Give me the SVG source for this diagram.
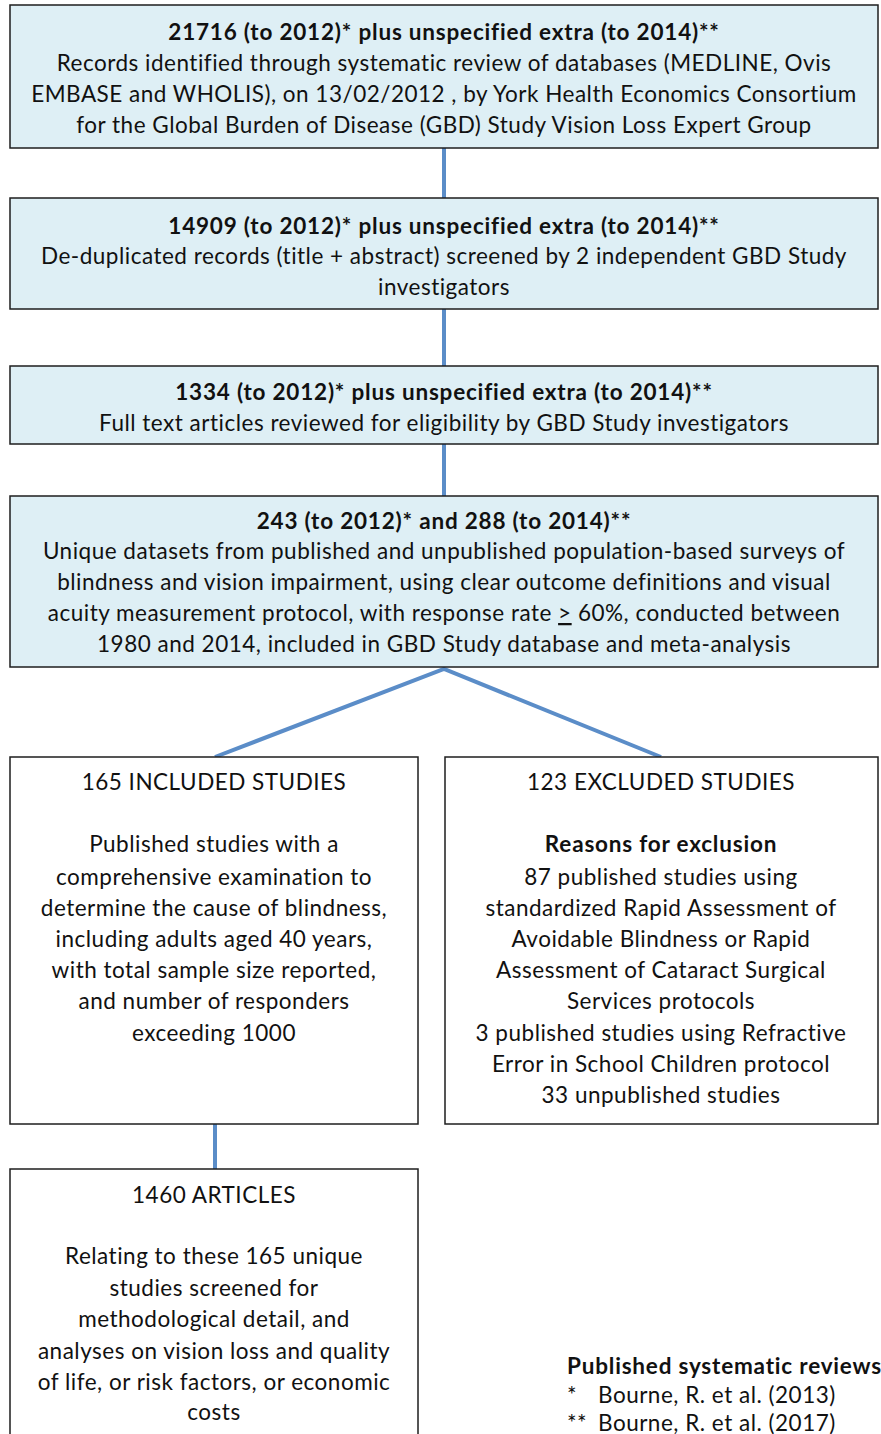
<svg xmlns="http://www.w3.org/2000/svg" width="881" height="1434" viewBox="0 0 881 1434">
<style>
.bb{fill:#deeff5;stroke:#1e1e1e;stroke-width:1.5}
.wb{fill:#ffffff;stroke:#1e1e1e;stroke-width:1.5}
text{font-family:Lato,"Liberation Sans",sans-serif;font-size:22.5px;letter-spacing:0.5px;fill:#111;text-anchor:middle}
.b{font-weight:bold;letter-spacing:0.8px}
.l{text-anchor:start}
.c{stroke:#5b8dc8;stroke-width:4;fill:none}
</style>
<rect width="881" height="1434" fill="#ffffff"/>
<g id="connectors">
<line class="c" x1="444" y1="148" x2="444" y2="198"/>
<line class="c" x1="444" y1="309" x2="444" y2="366"/>
<line class="c" x1="444" y1="444" x2="444" y2="496"/>
<polyline class="c" points="215,757 444,669 661,757"/>
<line class="c" x1="215" y1="1124" x2="215" y2="1169"/>
</g>
<g id="node1">
<rect class="bb" x="10" y="5" width="868" height="143"/>
<text class="b" x="444" y="40">21716 (to 2012)* plus unspecified extra (to 2014)**</text>
<text x="444" y="71">Records identified through systematic review of databases (MEDLINE, Ovis</text>
<text x="444" y="102">EMBASE and WHOLIS), on 13/02/2012 , by York Health Economics Consortium</text>
<text x="444" y="133">for the Global Burden of Disease (GBD) Study Vision Loss Expert Group</text>
</g>
<g id="node2">
<rect class="bb" x="10" y="198" width="868" height="111"/>
<text class="b" x="444" y="234">14909 (to 2012)* plus unspecified extra (to 2014)**</text>
<text x="444" y="264">De-duplicated records (title + abstract) screened by 2 independent GBD Study</text>
<text x="444" y="295">investigators</text>
</g>
<g id="node3">
<rect class="bb" x="10" y="366" width="868" height="78"/>
<text class="b" x="444" y="400">1334 (to 2012)* plus unspecified extra (to 2014)**</text>
<text x="444" y="431">Full text articles reviewed for eligibility by GBD Study investigators</text>
</g>
<g id="node4">
<rect class="bb" x="10" y="496" width="868" height="171"/>
<text class="b" x="444" y="529">243 (to 2012)* and 288 (to 2014)**</text>
<text x="444" y="559">Unique datasets from published and unpublished population-based surveys of</text>
<text x="444" y="590">blindness and vision impairment, using clear outcome definitions and visual</text>
<text x="444" y="621">acuity measurement protocol, with response rate <tspan text-decoration="underline">&gt;</tspan> 60%, conducted between</text>
<text x="444" y="652">1980 and 2014, included in GBD Study database and meta-analysis</text>
</g>
<g id="node5">
<rect class="wb" x="10" y="757" width="408" height="367"/>
<text x="214" y="790">165 INCLUDED STUDIES</text>
<text x="214" y="852">Published studies with a</text>
<text x="214" y="885">comprehensive examination to</text>
<text x="214" y="916">determine the cause of blindness,</text>
<text x="214" y="947">including adults aged 40 years,</text>
<text x="214" y="978">with total sample size reported,</text>
<text x="214" y="1009">and number of responders</text>
<text x="214" y="1041">exceeding 1000</text>
</g>
<g id="node6">
<rect class="wb" x="445" y="757" width="433" height="367"/>
<text x="661" y="790">123 EXCLUDED STUDIES</text>
<text class="b" x="661" y="852">Reasons for exclusion</text>
<text x="661" y="885">87 published studies using</text>
<text x="661" y="916">standardized Rapid Assessment of</text>
<text x="661" y="947">Avoidable Blindness or Rapid</text>
<text x="661" y="978">Assessment of Cataract Surgical</text>
<text x="661" y="1009">Services protocols</text>
<text x="661" y="1041">3 published studies using Refractive</text>
<text x="661" y="1072">Error in School Children protocol</text>
<text x="661" y="1103">33 unpublished studies</text>
</g>
<g id="node7">
<rect class="wb" x="10" y="1169" width="408" height="280"/>
<text x="214" y="1203">1460 ARTICLES</text>
<text x="214" y="1264">Relating to these 165 unique</text>
<text x="214" y="1296">studies screened for</text>
<text x="214" y="1327">methodological detail, and</text>
<text x="214" y="1359">analyses on vision loss and quality</text>
<text x="214" y="1390">of life, or risk factors, or economic</text>
<text x="214" y="1420">costs</text>
</g>
<g id="legend">
<text class="b l" x="567" y="1374">Published systematic reviews</text>
<text class="l" x="567" y="1403">*<tspan x="598">Bourne, R. et al. (2013)</tspan></text>
<text class="l" x="567" y="1431">**<tspan x="598">Bourne, R. et al. (2017)</tspan></text>
</g>
</svg>
